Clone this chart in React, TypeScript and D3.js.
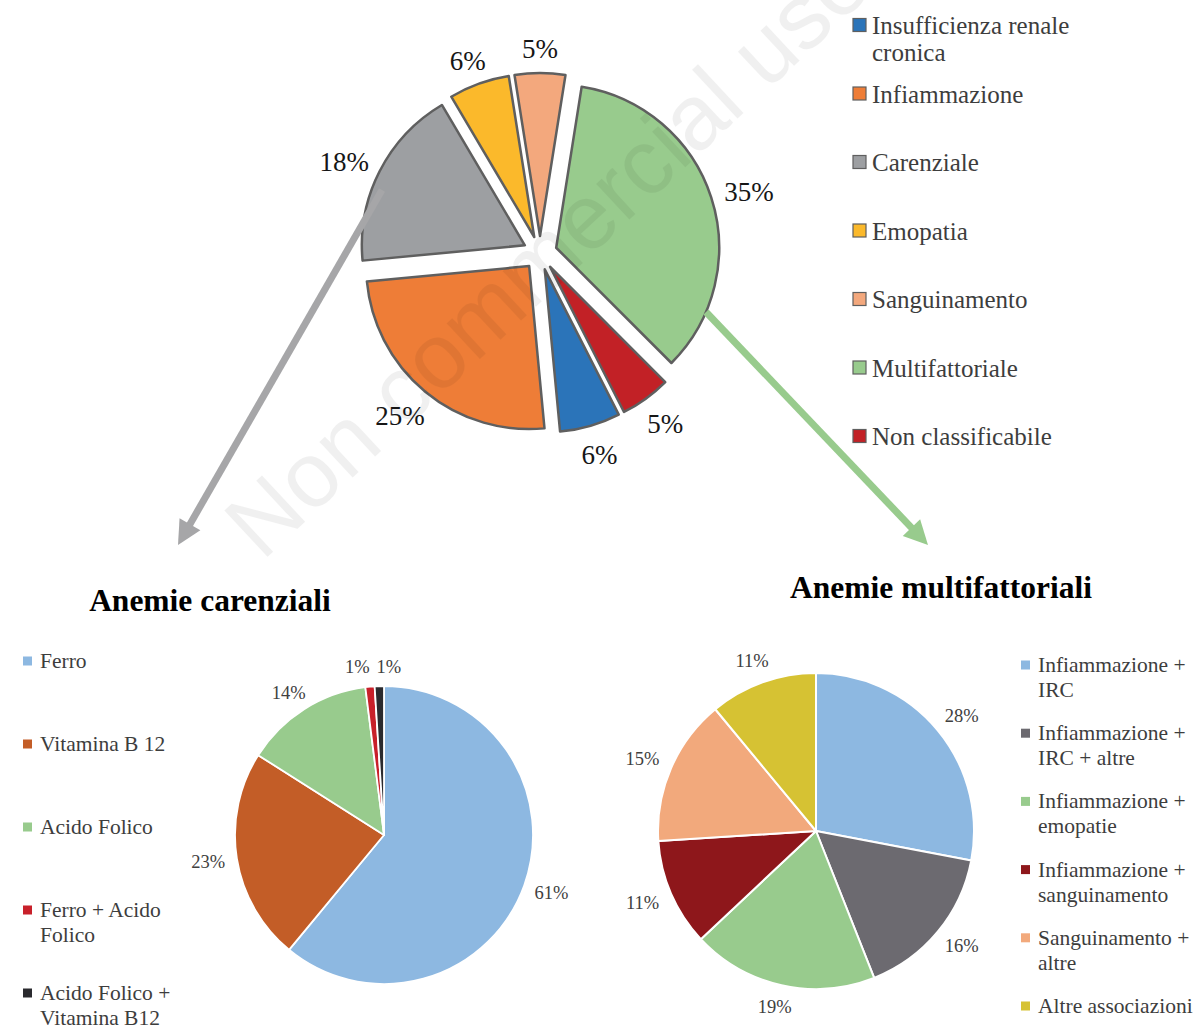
import React from 'react';
import * as d3 from 'd3';

// ---- Data ----
const overviewCategories = [
  'Insufficienza renale\ncronica',
  'Infiammazione',
  'Carenziale',
  'Emopatia',
  'Sanguinamento',
  'Multifattoriale',
  'Non classificabile',
];
const overviewValues = [6, 25, 18, 6, 5, 35, 5];
const overviewColors = ['#2B74B9', '#EE7D37', '#9D9FA2', '#FBB92B', '#F3A87D', '#98CB8D', '#C22126'];

const deficiencyCategories = [
  'Ferro',
  'Vitamina B 12',
  'Acido Folico',
  'Ferro + Acido\nFolico',
  'Acido Folico +\nVitamina B12',
];
const deficiencyValues = [61, 23, 14, 1, 1];
const deficiencyColors = ['#8DB8E1', '#C35D27', '#98CB8D', '#C8202A', '#2A2A2E'];

const multiCategories = [
  'Infiammazione +\nIRC',
  'Infiammazione +\nIRC + altre',
  'Infiammazione +\nemopatie',
  'Infiammazione +\nsanguinamento',
  'Sanguinamento +\naltre',
  'Altre associazioni',
];
const multiValues = [28, 16, 19, 11, 15, 11];
const multiColors = ['#8DB8E1', '#6C6A70', '#98CB8D', '#8E171B', '#F2A97C', '#D6C233'];

const deg = Math.PI / 180;
const SERIF = '"Liberation Serif", "Times New Roman", serif';

type PieProps = {
  cx: number;
  cy: number;
  r: number;
  values: number[];
  colors: string[];
  start: number;
  explode: number;
  stroke: string;
  strokeWidth: number;
  labelGap: number;
  fontSize: number;
  labelColor: string;
  labelShift: number;
};

function Pie({ cx, cy, r, values, colors, start, explode, stroke, strokeWidth, labelGap, fontSize, labelColor, labelShift }: PieProps) {
  const arcs = d3
    .pie<number>()
    .sort(null)
    .value((d) => d)
    .startAngle(start)
    .endAngle(start + 2 * Math.PI)(values);
  const arc = d3.arc<d3.PieArcDatum<number>>().innerRadius(0).outerRadius(r);

  // outside-end labels: the label box sits just beyond the slice edge
  const labels = arcs.map((a) => {
    const mid = (a.startAngle + a.endAngle) / 2;
    const dx = Math.sin(mid);
    const dy = -Math.cos(mid);
    const text = `${a.data}%`;
    const w = fontSize * (0.5 * String(a.data).length + 0.833);
    const h = fontSize * 0.9;
    const R0 = r + explode + labelGap;
    return { text, x: cx + R0 * dx + (dx * w) / 2, y: cy + R0 * dy + (dy * h) / 2 + labelShift, w, h };
  });
  // nudge colliding labels apart horizontally
  for (let it = 0; it < 30; it++) {
    for (let i = 0; i < labels.length; i++) {
      for (let j = i + 1; j < labels.length; j++) {
        const A = labels[i];
        const B = labels[j];
        const need = (A.w + B.w) / 2 + 7;
        const ddx = B.x - A.x;
        if (Math.abs(ddx) < need && Math.abs(B.y - A.y) < (A.h + B.h) / 2) {
          const push = (need - Math.abs(ddx)) / 2;
          const s = ddx >= 0 ? 1 : -1;
          A.x -= s * push;
          B.x += s * push;
        }
      }
    }
  }

  return (
    <g>
      {arcs.map((a, i) => {
        const mid = (a.startAngle + a.endAngle) / 2;
        const ox = Math.sin(mid) * explode;
        const oy = -Math.cos(mid) * explode;
        return (
          <path
            key={i}
            d={arc(a) || ''}
            transform={`translate(${cx + ox},${cy + oy})`}
            fill={colors[i]}
            stroke={stroke}
            strokeWidth={strokeWidth}
            strokeLinejoin="round"
          />
        );
      })}
      {labels.map((l, i) => (
        <text
          key={i}
          x={l.x}
          y={l.y}
          textAnchor="middle"
          dominantBaseline="central"
          fontFamily={SERIF}
          fontSize={fontSize}
          fill={labelColor}
        >
          {l.text}
        </text>
      ))}
    </g>
  );
}

type LegendProps = {
  items: string[];
  colors: string[];
  x: number;
  y0: number;
  step: number;
  size: number;
  textX: number;
  fontSize: number;
  lineHeight: number;
  boxStroke?: string;
};

function Legend({ items, colors, x, y0, step, size, textX, fontSize, lineHeight, boxStroke }: LegendProps) {
  return (
    <g>
      {items.map((label, i) => {
        const y = y0 + i * step;
        const lines = label.split('\n');
        return (
          <g key={i}>
            <rect
              x={x}
              y={y - size / 2}
              width={size}
              height={size}
              fill={colors[i]}
              stroke={boxStroke || 'none'}
              strokeWidth={boxStroke ? 1.2 : 0}
            />
            <text fontFamily={SERIF} fontSize={fontSize} fill="#3d3d3d" dominantBaseline="central">
              {lines.map((ln, k) => (
                <tspan key={k} x={textX} y={y + k * lineHeight}>
                  {ln}
                </tspan>
              ))}
            </text>
          </g>
        );
      })}
    </g>
  );
}

function Arrow({ from, to, color, width }: { from: [number, number]; to: [number, number]; color: string; width: number }) {
  const dx = to[0] - from[0];
  const dy = to[1] - from[1];
  const len = Math.hypot(dx, dy);
  const ux = dx / len;
  const uy = dy / len;
  const headLen = 24;
  const headHalf = 12;
  const bx = to[0] - ux * headLen;
  const by = to[1] - uy * headLen;
  const px = -uy;
  const py = ux;
  const head = `M${to[0]},${to[1]} L${bx + px * headHalf},${by + py * headHalf} L${bx - px * headHalf},${by - py * headHalf} Z`;
  return (
    <g>
      <line x1={from[0]} y1={from[1]} x2={bx + ux * 2} y2={by + uy * 2} stroke={color} strokeWidth={width} />
      <path d={head} fill={color} />
    </g>
  );
}

export default function App() {
  return (
    <svg
      width={1203}
      height={1028}
      style={{ position: 'absolute', left: 0, top: 0, background: '#fff' }}
      xmlns="http://www.w3.org/2000/svg"
    >
      <rect x={0} y={0} width={1203} height={1028} fill="#fff" />

      {/* overview pie, all slices pulled out */}
      <Pie
        cx={540}
        cy={253}
        r={163}
        values={overviewValues}
        colors={overviewColors}
        start={153 * deg}
        explode={17}
        stroke="#5f5f5f"
        strokeWidth={2.5}
        labelGap={15}
        fontSize={27}
        labelColor="#161616"
        labelShift={3}
      />
      <Legend
        items={overviewCategories}
        colors={overviewColors}
        x={853}
        y0={25}
        step={68.5}
        size={13}
        textX={872}
        fontSize={25}
        lineHeight={27}
        boxStroke="#5f5f5f"
      />

      {/* arrows to the detail pies */}
      <Arrow from={[382, 190]} to={[178, 545]} color="#A6A6A8" width={7} />
      <Arrow from={[706, 312]} to={[928, 545]} color="#98CB8D" width={7} />

      {/* deficiency anaemias */}
      <text x={210} y={600} textAnchor="middle" dominantBaseline="central" fontFamily={SERIF} fontWeight="bold" fontSize={31.5} fill="#000">
        Anemie carenziali
      </text>
      <Pie
        cx={384}
        cy={835}
        r={149}
        values={deficiencyValues}
        colors={deficiencyColors}
        start={0}
        explode={0}
        stroke="#fff"
        strokeWidth={1.8}
        labelGap={12}
        fontSize={18.5}
        labelColor="#404040"
        labelShift={1}
      />
      <Legend
        items={deficiencyCategories}
        colors={deficiencyColors}
        x={23}
        y0={661}
        step={83}
        size={9}
        textX={40}
        fontSize={21.5}
        lineHeight={24.5}
      />

      {/* multifactorial anaemias */}
      <text x={941} y={587} textAnchor="middle" dominantBaseline="central" fontFamily={SERIF} fontWeight="bold" fontSize={31.5} fill="#000">
        Anemie multifattoriali
      </text>
      <Pie
        cx={816}
        cy={831}
        r={158}
        values={multiValues}
        colors={multiColors}
        start={0}
        explode={0}
        stroke="#fff"
        strokeWidth={2}
        labelGap={14}
        fontSize={18.5}
        labelColor="#404040"
        labelShift={0}
      />
      <Legend
        items={multiCategories}
        colors={multiColors}
        x={1021}
        y0={665}
        step={68.2}
        size={9}
        textX={1038}
        fontSize={21.5}
        lineHeight={25}
      />

      {/* watermark */}
      <text
        transform="translate(262,562) rotate(-43)"
        fontFamily='"Liberation Sans", Arial, sans-serif'
        fontSize={92}
        fill="#000"
        opacity={0.055}
      >
        Non commercial use
      </text>
    </svg>
  );
}
